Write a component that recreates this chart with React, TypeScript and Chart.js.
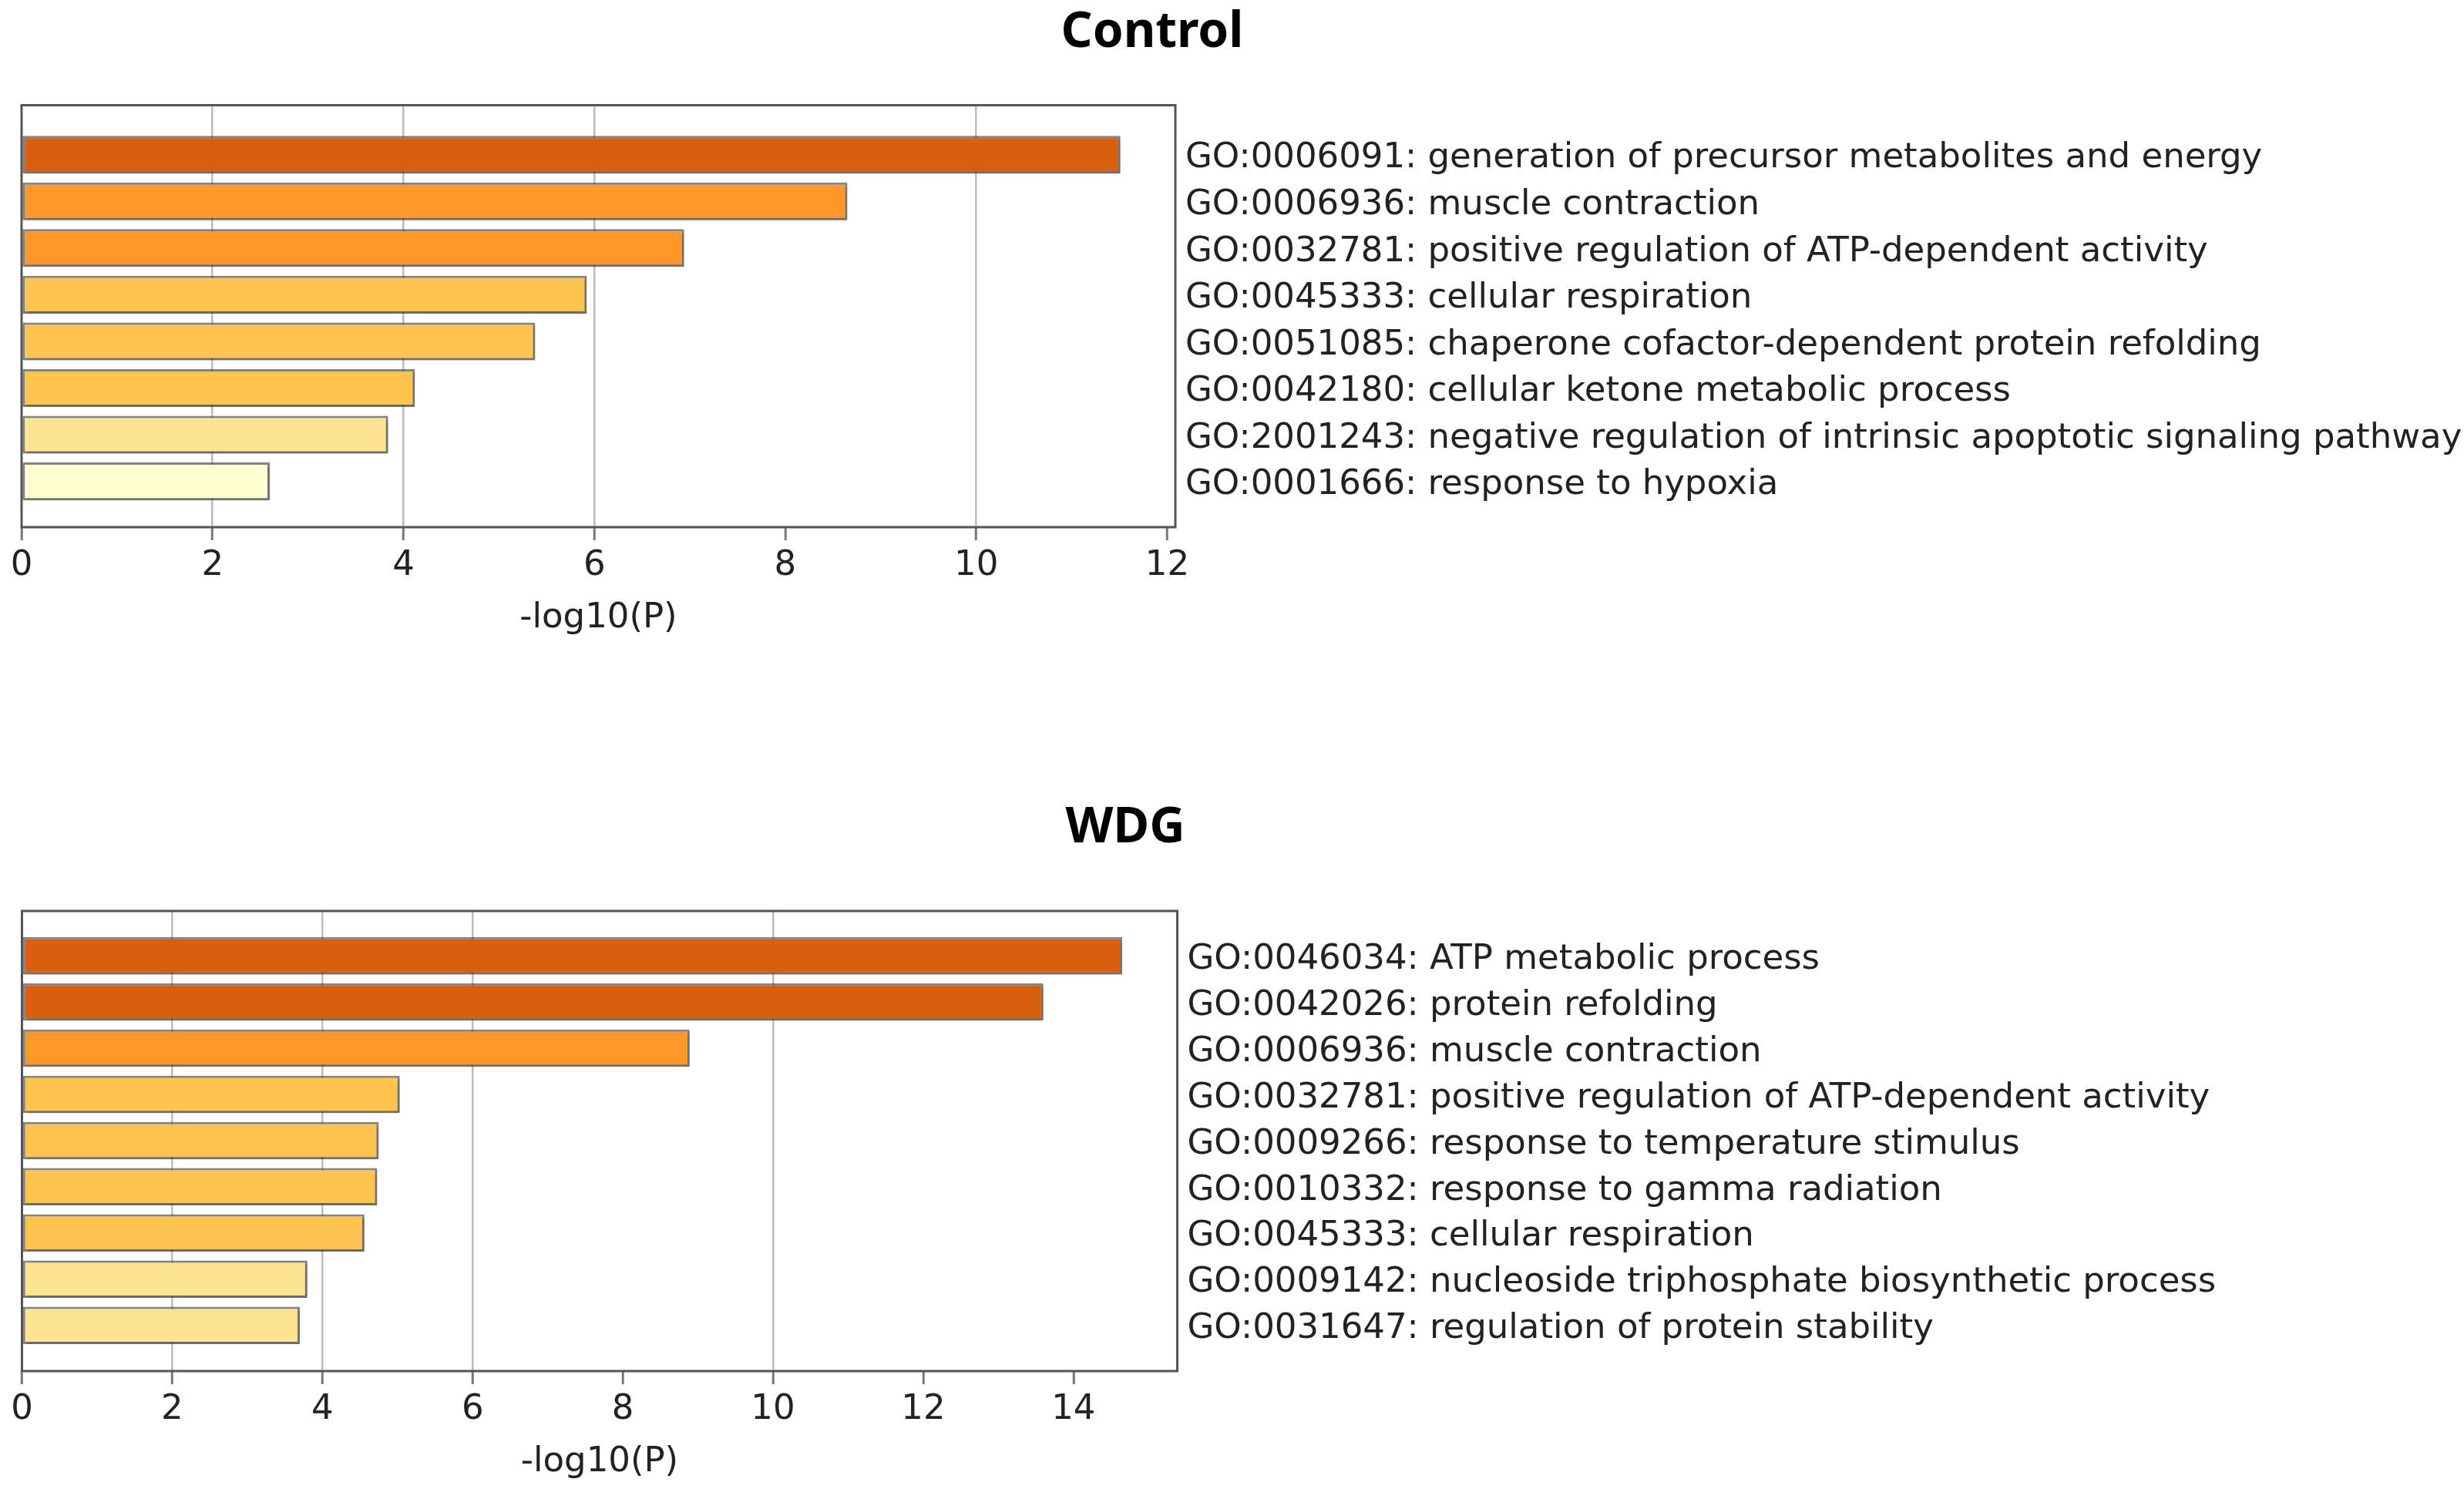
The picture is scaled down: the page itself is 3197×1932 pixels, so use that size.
import React, { useEffect, useRef } from "react";
import { Chart, registerables } from "chart.js";

Chart.register(...registerables);

// ---------- data ----------
const controlTitle = "Control";
const controlTerms = [
  "GO:0006091: generation of precursor metabolites and energy",
  "GO:0006936: muscle contraction",
  "GO:0032781: positive regulation of ATP-dependent activity",
  "GO:0045333: cellular respiration",
  "GO:0051085: chaperone cofactor-dependent protein refolding",
  "GO:0042180: cellular ketone metabolic process",
  "GO:2001243: negative regulation of intrinsic apoptotic signaling pathway",
  "GO:0001666: response to hypoxia",
];
const controlValues = [11.51, 8.65, 6.94, 5.92, 5.38, 4.12, 3.84, 2.6];

const wdgTitle = "WDG";
const wdgTerms = [
  "GO:0046034: ATP metabolic process",
  "GO:0042026: protein refolding",
  "GO:0006936: muscle contraction",
  "GO:0032781: positive regulation of ATP-dependent activity",
  "GO:0009266: response to temperature stimulus",
  "GO:0010332: response to gamma radiation",
  "GO:0045333: cellular respiration",
  "GO:0009142: nucleoside triphosphate biosynthetic process",
  "GO:0031647: regulation of protein stability",
];
const wdgValues = [14.65, 13.6, 8.89, 5.03, 4.75, 4.73, 4.56, 3.8, 3.7];

const axisTitle = "-log10(P)";
const xTickStep = 2;
const gridLineValues = [2, 4, 6, 10];

// ---------- styling helpers ----------
function barColor(v: number): string {
  if (v >= 10) return "#D95F0E";
  if (v >= 6) return "#FE9929";
  if (v >= 4) return "#FEC44F";
  if (v >= 3) return "#FEE391";
  return "#FFFFD4";
}

const labelFont = { family: "DejaVu Sans", size: 45, lineHeight: 1.2 };

const shadowPlugin = {
  id: "barShadow",
  beforeDatasetsDraw(chart: any) {
    const ctx = chart.ctx;
    ctx.save();
    ctx.shadowColor = "rgba(0,0,0,0.25)";
    ctx.shadowBlur = 4;
    ctx.shadowOffsetX = 2;
    ctx.shadowOffsetY = 3;
  },
  afterDatasetsDraw(chart: any) {
    chart.ctx.restore();
  },
};

const framePlugin = {
  id: "frame",
  afterDraw(chart: any) {
    const { ctx, chartArea } = chart;
    ctx.save();
    ctx.strokeStyle = "#555";
    ctx.lineWidth = 3;
    ctx.strokeRect(
      chartArea.left,
      chartArea.top,
      chartArea.right - chartArea.left,
      chartArea.bottom - chartArea.top
    );
    ctx.restore();
  },
};

interface PanelProps {
  title: string;
  terms: string[];
  values: number[];
  top: number;
  height: number;
  shiftLeft: number; // canvas starts this far left of the page
  width: number; // canvas width
  leftSpace: number; // room left of the plot inside the canvas
  titlePadTop: number;
  titlePadBottom: number;
  yAxisWidth: number;
  marginTop: number; // empty rows above first bar (in row units)
  marginBottom: number;
}

function Panel(p: PanelProps) {
  const ref = useRef<HTMLCanvasElement | null>(null);
  useEffect(() => {
    if (!ref.current) return;
    const n = p.values.length;
    const xMax = Math.max(...p.values) * 1.05;
    const chart = new Chart(ref.current, {
      type: "bar",
      data: {
        datasets: [
          {
            data: p.values.map((v, i) => ({ x: v, y: i })),
            backgroundColor: p.values.map(barColor),
            borderColor: "rgba(70,70,70,0.65)",
            borderWidth: 3,
            borderSkipped: false,
            categoryPercentage: 1,
            barPercentage: 0.81,
            yAxisID: "y",
            xAxisID: "x",
          } as any,
        ],
      },
      options: {
        indexAxis: "y",
        animation: false,
        responsive: true,
        maintainAspectRatio: false,
        layout: { padding: 0 },
        plugins: {
          legend: { display: false },
          tooltip: { enabled: false },
          title: {
            display: true,
            text: p.title,
            color: "#000",
            font: { family: "Noto Sans", weight: "bold", size: 64, lineHeight: 1 },
            padding: { top: p.titlePadTop, bottom: p.titlePadBottom },
          },
        },
        scales: {
          x: {
            type: "linear",
            position: "bottom",
            min: 0,
            max: xMax,
            ticks: {
              stepSize: xTickStep,
              includeBounds: false,
              font: labelFont,
              color: "#222",
              padding: 6,
              maxRotation: 0,
            },
            grid: {
              color: (ctx: any) =>
                ctx.tick && gridLineValues.includes(ctx.tick.value)
                  ? "#bdbdbd"
                  : "rgba(0,0,0,0)",
              lineWidth: 2.5,
              drawTicks: true,
              tickLength: 17,
              tickColor: "#777",
              tickWidth: 3,
            },
            border: { display: false },
            title: {
              display: true,
              text: axisTitle,
              color: "#222",
              font: labelFont,
              padding: 0,
            },
            afterFit: (s: any) => {
              s.height = 145;
            },
          },
          y: {
            type: "linear",
            position: "right",
            reverse: true,
            offset: false,
            min: -p.marginTop,
            max: n - 1 + p.marginBottom,
            ticks: {
              stepSize: 1,
              includeBounds: false,
              autoSkip: false,
              font: labelFont,
              color: "#222",
              padding: 13,
              labelOffset: 5,
              callback: (v: any) =>
                Number.isInteger(v) && v >= 0 && v < n ? p.terms[v] : "",
            },
            grid: { display: false, drawTicks: false },
            border: { display: false },
            afterFit: (s: any) => {
              s.width = p.yAxisWidth;
            },
          },
          // empty spacer on the left so the plot starts at the page's left margin
          spacer: {
            type: "linear",
            position: "left",
            axis: "y",
            display: true,
            ticks: { display: false },
            grid: { display: false, drawTicks: false },
            border: { display: false },
            afterFit: (s: any) => {
              s.width = p.leftSpace;
            },
          },
        },
      } as any,
      plugins: [shadowPlugin, framePlugin],
    });
    return () => chart.destroy();
  }, []);
  return (
    <div
      style={{
        position: "absolute",
        left: -p.shiftLeft,
        top: p.top,
        width: p.width,
        height: p.height,
      }}
    >
      <canvas ref={ref} />
    </div>
  );
}

export default function App() {
  return (
    <div
      style={{
        position: "absolute",
        left: 0,
        top: 0,
        width: 3197,
        height: 1932,
        overflow: "hidden",
        background: "#fff",
      }}
    >
      <Panel
        title={controlTitle}
        terms={controlTerms}
        values={controlValues}
        top={0}
        height={829}
        shiftLeft={207}
        width={3404}
        leftSpace={235}
        titlePadTop={10.5}
        titlePadBottom={62}
        yAxisWidth={1672}
        marginTop={1.06}
        marginBottom={0.98}
      />
      <Panel
        title={wdgTitle}
        terms={wdgTerms}
        values={wdgValues}
        top={900}
        height={1024}
        shiftLeft={277}
        width={3474}
        leftSpace={305.5}
        titlePadTop={143}
        titlePadBottom={75}
        yAxisWidth={1669.5}
        marginTop={0.97}
        marginBottom={0.99}
      />
    </div>
  );
}
